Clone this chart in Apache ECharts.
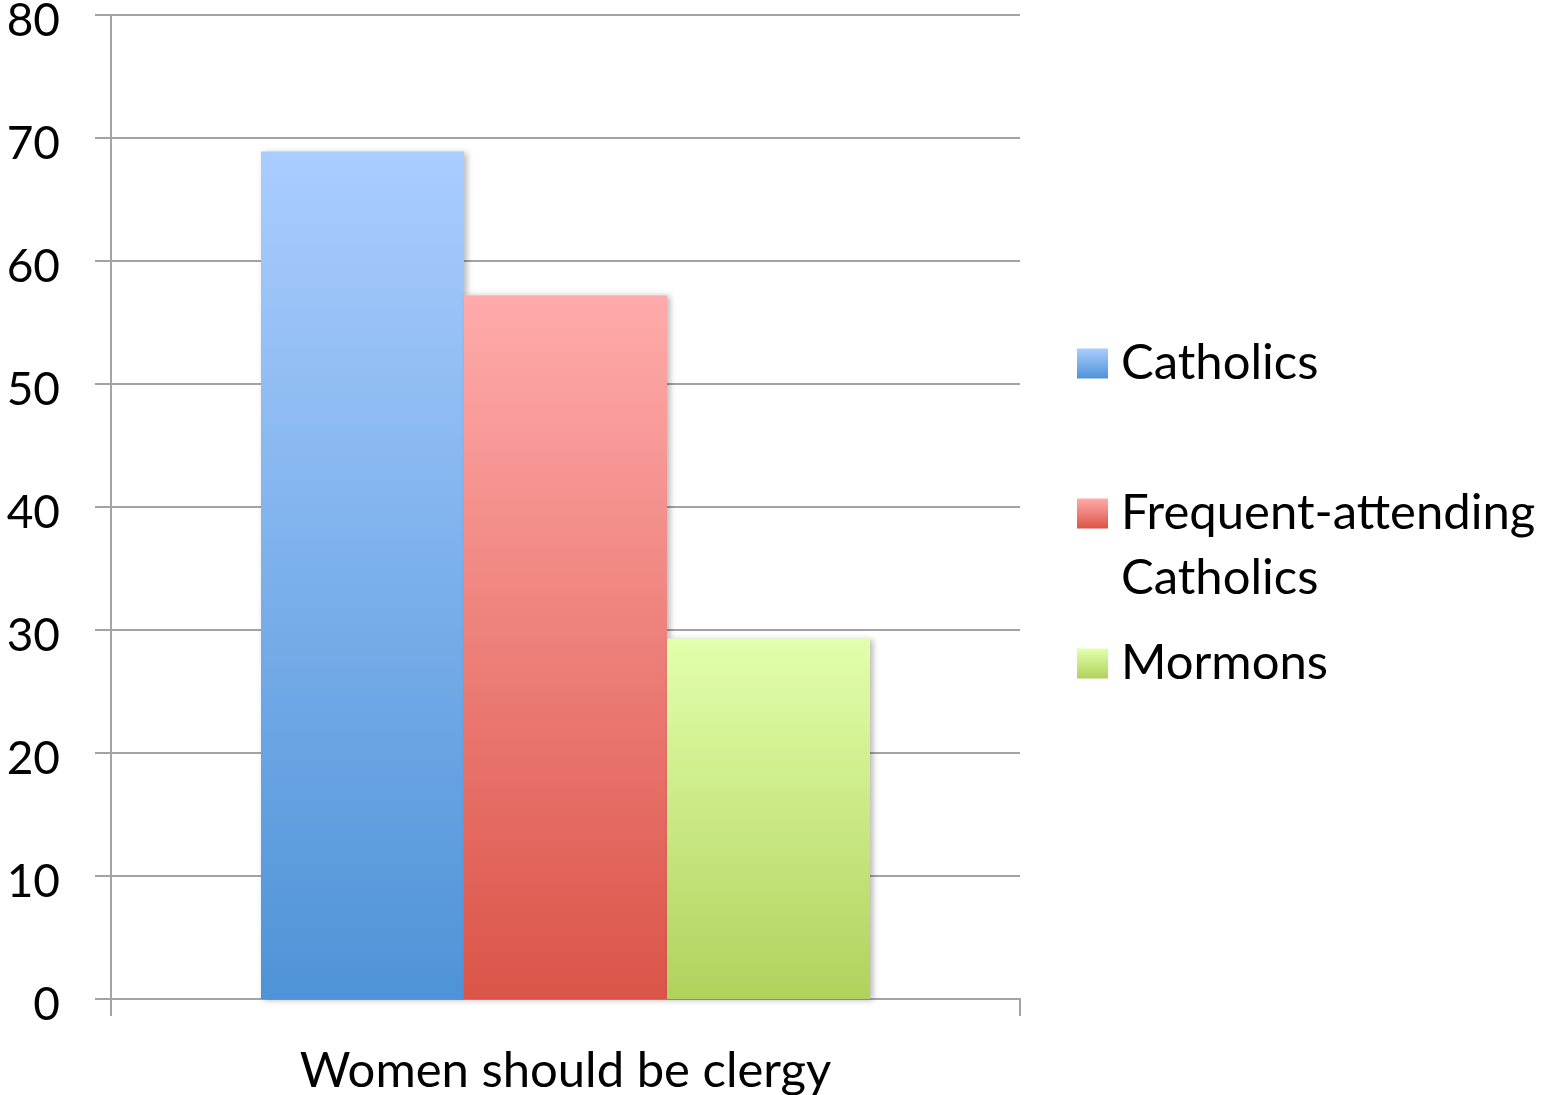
<!DOCTYPE html>
<html>
<head>
<meta charset="utf-8">
<style>
  html, body { margin: 0; padding: 0; background: #fff; }
  #chart { width: 1545px; height: 1095px; }
</style>
<script src="https://cdn.jsdelivr.net/npm/echarts@6/dist/echarts.min.js"></script>
</head>
<body>
<div id="chart"></div>
<script>
// data
const categories = ['Women should be clergy']
const seriesNames = ['Catholics', 'Frequent-attending Catholics', 'Mormons']
const legendLines = ['Catholics', 'Frequent-attending\nCatholics', 'Mormons']
const catholics = [68.9]
const frequentCatholics = [57.2]
const mormons = [29.3]
const yTicks = [0, 10, 20, 30, 40, 50, 60, 70, 80]

const FONT = 'Lato'
const gray = '#a3a3a3'

const grad = (top, bottom) =>
  new echarts.graphic.LinearGradient(0, 0, 0, 1, [
    { offset: 0, color: top },
    { offset: 1, color: bottom },
  ])

const barColors = [
  grad('#aacdff', '#4e93d7'),
  grad('#ffabab', '#db5448'),
  grad('#e2ffab', '#b0d25c'),
]

const chart = echarts.init(document.getElementById('chart'))

const barStyle = (color) => ({
  color,
  shadowColor: 'rgba(0,0,0,0.28)',
  shadowBlur: 6,
  shadowOffsetX: 3,
  shadowOffsetY: 1,
})

// one legend per item so each can sit at its own height;
// the blank lines keep the icon beside the first text line
const makeLegend = (i, iconTop) => ({
  orient: 'vertical',
  left: 1077,
  top: iconTop - 86,
  padding: 0,
  itemWidth: 31,
  itemHeight: 30,
  icon: 'rect',
  selectedMode: false,
  data: [seriesNames[i]],
  formatter: () => ' \n' + legendLines[i] + (legendLines[i].includes('\n') ? '' : '\n '),
  textStyle: {
    fontFamily: FONT,
    fontSize: 49,
    color: '#000',
    lineHeight: 65,
    padding: [8, 0, 0, 8],
  },
})

const option = {
  animation: false,
  grid: {
    left: 111,
    right: 525,
    top: 15,
    bottom: 96,
    containLabel: false,
    outerBoundsMode: 'none',
  },
  legend: [makeLegend(0, 348), makeLegend(1, 498), makeLegend(2, 648)],
  xAxis: {
    type: 'category',
    data: categories,
    axisLine: { lineStyle: { color: gray, width: 2 } },
    axisTick: { show: true, length: 17, lineStyle: { color: gray, width: 2 } },
    axisLabel: { fontFamily: FONT, fontSize: 49, color: '#000', margin: 48 },
  },
  yAxis: {
    type: 'value',
    min: yTicks[0],
    max: yTicks[yTicks.length - 1],
    interval: 10,
    axisLine: { show: true, lineStyle: { color: gray, width: 2 } },
    axisTick: { show: true, length: 16, lineStyle: { color: gray, width: 2 } },
    axisLabel: {
      margin: 51,
      formatter: '{v|{value}}',
      rich: { v: { fontFamily: FONT, fontSize: 46, color: '#000', padding: [12, 0, 0, 0] } },
    },
    splitLine: { lineStyle: { color: gray, width: 2 } },
  },
  series: [
    { name: seriesNames[0], type: 'bar', data: catholics, barGap: '0%', barCategoryGap: '33%', itemStyle: barStyle(barColors[0]) },
    { name: seriesNames[1], type: 'bar', data: frequentCatholics, barGap: '0%', barCategoryGap: '33%', itemStyle: barStyle(barColors[1]) },
    { name: seriesNames[2], type: 'bar', data: mormons, barGap: '0%', barCategoryGap: '33%', itemStyle: barStyle(barColors[2]) },
  ],
}

chart.setOption(option)
</script>
</body>
</html>
